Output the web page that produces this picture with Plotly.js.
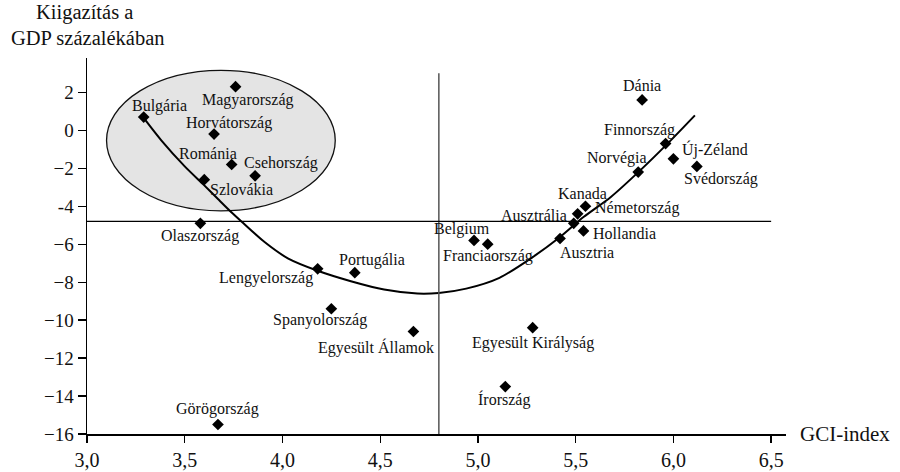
<!DOCTYPE html>
<html>
<head>
<meta charset="utf-8">
<script src="https://cdn.plot.ly/plotly-3.0.1.min.js"></script>
<style>html,body{margin:0;padding:0;background:#fff;}#chart{width:900px;height:472px;}</style>
</head>
<body>
<div id="chart"></div>
<script>
// ---- data ----
const countries = ["Bulgária","Magyarország","Horvátország","Románia","Csehország","Szlovákia","Olaszország",
  "Lengyelország","Portugália","Spanyolország","Egyesült Államok","Görögország","Egyesült Királyság","Írország",
  "Belgium","Franciaország","Ausztria","Hollandia","Ausztrália","Kanada","Németország","Norvégia","Finnország",
  "Új-Zéland","Svédország","Dánia"];
const gci = [3.29,3.76,3.65,3.74,3.86,3.60,3.58,4.18,4.37,4.25,4.67,3.67,5.28,5.14,4.98,5.05,5.42,5.54,5.49,5.51,5.55,5.82,5.96,6.00,6.12,5.84];
const adjustment = [0.7,2.3,-0.2,-1.8,-2.4,-2.6,-4.9,-7.3,-7.5,-9.4,-10.6,-15.5,-10.4,-13.5,-5.8,-6.0,-5.7,-5.3,-4.9,-4.4,-4.0,-2.2,-0.7,-1.5,-1.9,1.6];
// trend curve
const trendX = [3.29,3.38,3.50,3.60,3.67,3.74,3.79,3.91,4.03,4.18,4.35,4.52,4.69,4.80,4.94,5.11,5.28,5.42,5.54,5.68,5.83,5.97,6.11];
const trendY = [0.65,-0.53,-1.90,-2.90,-3.62,-4.33,-4.80,-5.90,-6.76,-7.40,-7.95,-8.39,-8.60,-8.57,-8.34,-7.77,-6.68,-5.62,-4.57,-3.51,-2.11,-0.70,0.79];
// reference lines & highlighted group
const refLineX = 4.8, refLineY = -4.8;
const groupBox = {x: [3.10, 4.27], y: [-4.24, 3.16]};
// axis ticks
const xTickVals = [3.0,3.5,4.0,4.5,5.0,5.5,6.0,6.5];
const xTickText = ["3,0","3,5","4,0","4,5","5,0","5,5","6,0","6,5"];
const yTickVals = [-16,-14,-12,-10,-8,-6,-4,-2,0,2];
const yTickText = ["\u221216","\u221214","\u221212","\u221210","\u22128","\u22126","-4","\u22122","0","2"];
const yTitleLines = ["Kiigazítás a", "GDP százalékában"];
const xTitle = "GCI-index";

// ---- label placement (pixel offsets from each point) ----
const labelOffsets = {
  "Bulgária":[15.5,-11],"Magyarország":[12.8,13.3],"Horvátország":[15,-11.6],"Románia":[-23.5,-10.7],
  "Csehország":[26.3,-12.4],"Szlovákia":[37.5,10],"Olaszország":[0,13],"Lengyelország":[-51.8,9.4],
  "Portugália":[17.5,-12.3],"Spanyolország":[-11.8,11.7],"Egyesült Államok":[-37.7,16],"Görögország":[0,-15.7],
  "Egyesült Királyság":[0,15.6],"Írország":[-1,13.3],"Belgium":[-12,-11.7],"Franciaország":[0,11.4],
  "Ausztria":[26.7,13.7],"Hollandia":[40.7,3],"Ausztrália":[-39.5,-8.3],"Kanada":[5,-20.3],
  "Németország":[51.4,1.7],"Norvégia":[-21.6,-13.7],"Finnország":[-26,-13.7],"Új-Zéland":[41.4,-9],
  "Svédország":[24.5,13],"Dánia":[0,-14.7]
};
const titleLineY = [1.1197, 1.0532];   // paper positions of the two title lines

const FONT = "Liberation Serif";
const TXT = "#111";

const traces = [
  {x: trendX, y: trendY, type: "scatter", mode: "lines", line: {color: "#000", width: 2, shape: "spline", smoothing: 0.8}, hoverinfo: "skip"},
  {x: gci, y: adjustment, type: "scatter", mode: "markers", text: countries,
   marker: {symbol: "diamond", size: 9, color: "#000"}}
];

const annotations = countries.map((c, i) => ({
  x: gci[i], y: adjustment[i], xref: "x", yref: "y", text: c, showarrow: false,
  xanchor: "center", yanchor: "middle",
  xshift: labelOffsets[c][0], yshift: -labelOffsets[c][1],
  font: {family: FONT, size: 16, color: TXT}
}));
yTitleLines.forEach((t, i) => annotations.push({
  x: 0, y: titleLineY[i], xref: "paper", yref: "paper", text: t, showarrow: false,
  xanchor: "center", yanchor: "middle", xshift: i === 0 ? -3 : 1,
  font: {family: FONT, size: 20.5, color: TXT}
}));
annotations.push({
  x: 1, y: 0, xref: "paper", yref: "paper", text: xTitle, showarrow: false,
  xanchor: "left", yanchor: "middle", xshift: 12,
  font: {family: FONT, size: 21, color: TXT}
});

const layout = {
  width: 900, height: 472,
  margin: {l: 87, r: 114, t: 58, b: 38},
  paper_bgcolor: "#fff", plot_bgcolor: "#fff",
  showlegend: false,
  font: {family: FONT, color: TXT},
  xaxis: {range: [3.0, 6.576], showgrid: false, zeroline: false, showline: true, linecolor: "#000", linewidth: 1.5,
          ticks: "outside", ticklen: 7, tickcolor: "#000", tickwidth: 1.3,
          tickvals: xTickVals, ticktext: xTickText, tickfont: {family: FONT, size: 20, color: TXT}},
  yaxis: {range: [-16, 3.81], showgrid: false, zeroline: false, showline: true, linecolor: "#000", linewidth: 1.5,
          ticks: "outside", ticklen: 8, tickcolor: "#000", tickwidth: 1.3,
          tickvals: yTickVals, ticktext: yTickText, tickfont: {family: FONT, size: 19, color: TXT}},
  shapes: [
    {type: "circle", xref: "x", yref: "y", x0: groupBox.x[0], x1: groupBox.x[1], y0: groupBox.y[0], y1: groupBox.y[1],
     fillcolor: "#e4e4e4", line: {color: "#111", width: 1.3}, layer: "below"},
    {type: "line", xref: "x", yref: "y", x0: refLineX, x1: refLineX, y0: -16, y1: 3.0, line: {color: "#555", width: 1.5}},
    {type: "line", xref: "x", yref: "y", x0: 3.0, x1: 6.5, y0: refLineY, y1: refLineY, line: {color: "#000", width: 1.3}}
  ],
  annotations: annotations
};

Plotly.newPlot("chart", traces, layout, {displayModeBar: false, staticPlot: true});
</script>
</body>
</html>
